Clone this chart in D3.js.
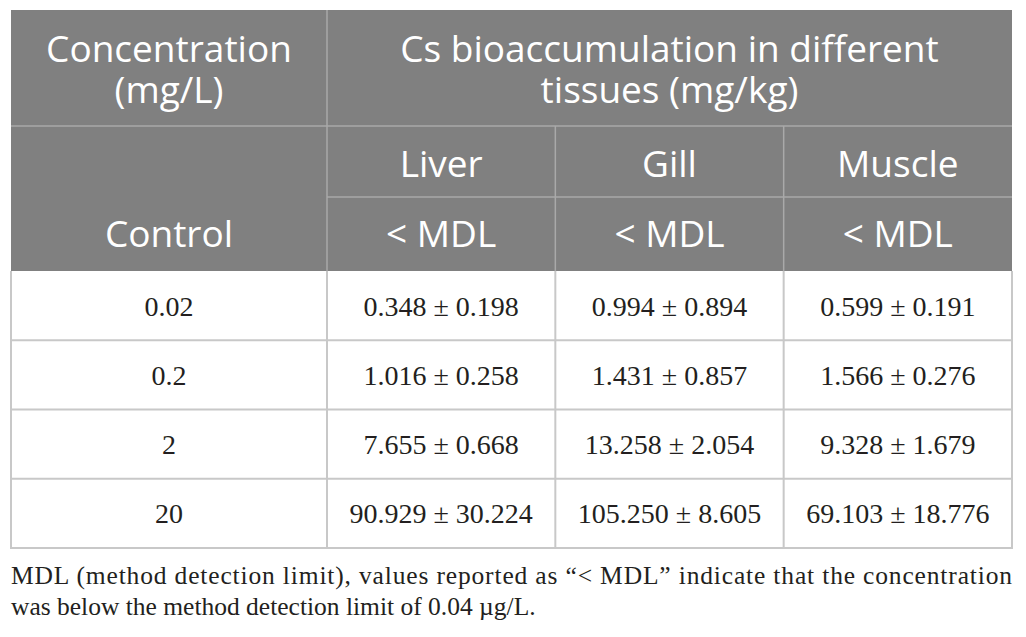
<!DOCTYPE html>
<html lang="en">
<head>
<meta charset="UTF-8">
<title>Cs bioaccumulation table</title>
<script src="https://d3js.org/d3.v7.min.js"></script>
<style>
    body { margin: 0; background: white; }
    .head { font-family: "Open Sans", sans-serif; font-size: 37px; fill: white; }
    .cell { font-family: "Liberation Serif", "Times New Roman", serif; font-size: 28px; fill: #231f20; }
    .note { font-family: "Liberation Serif", "Times New Roman", serif; font-size: 25.5px; fill: #231f20; }
</style>
</head>
<body>
<svg width="1026" height="637"></svg>
<script>
    // table contents
    var concentrations = ["0.02", "0.2", "2", "20"];
    var tissues = ["Liver", "Gill", "Muscle"];
    var liverMean = ["0.348", "1.016", "7.655", "90.929"];
    var liverSd = ["0.198", "0.258", "0.668", "30.224"];
    var gillMean = ["0.994", "1.431", "13.258", "105.250"];
    var gillSd = ["0.894", "0.857", "2.054", "8.605"];
    var muscleMean = ["0.599", "1.566", "9.328", "69.103"];
    var muscleSd = ["0.191", "0.276", "1.679", "18.776"];
    var controlLabel = "< MDL";
    var firstHeader = ["Concentration", "(mg/L)"];
    var groupHeader = ["Cs bioaccumulation in different", "tissues (mg/kg)"];
    var noteLines = [
        "MDL (method detection limit), values reported as \u201c< MDL\u201d indicate that the concentration",
        "was below the method detection limit of 0.04 \u00b5g/L."
    ];

    var svg = d3.select("svg");
    var left = 11, split = 327, right = 1012;
    var headTop = 10, headMid = 126, headSub = 197, bodyTop = 271, bodyBottom = 548;

    var x = d3.scaleBand().domain(tissues).range([split, right]);
    var y = d3.scaleBand().domain(concentrations).range([bodyTop, bodyBottom]);
    var cx = function(t) { return x(t) + x.bandwidth() / 2; };

    var rows = concentrations.map(function(c, i) {
        return { conc: c, vals: [
            liverMean[i] + " \u00b1 " + liverSd[i],
            gillMean[i] + " \u00b1 " + gillSd[i],
            muscleMean[i] + " \u00b1 " + muscleSd[i]
        ] };
    });

    // header background
    svg.append("rect")
        .attr("x", left).attr("y", headTop)
        .attr("width", right - left).attr("height", bodyTop - headTop)
        .attr("fill", "#808080");

    var hl = svg.append("g").attr("stroke", "#a9a9a9").attr("stroke-width", 1.5);
    hl.append("line").attr("x1", left).attr("x2", right).attr("y1", headMid).attr("y2", headMid);
    hl.append("line").attr("x1", split).attr("x2", right).attr("y1", headSub).attr("y2", headSub);
    hl.append("line").attr("x1", split).attr("x2", split).attr("y1", headTop).attr("y2", bodyTop);
    hl.selectAll(".sub").data(tissues.slice(1)).enter().append("line")
        .attr("x1", function(d) { return x(d); }).attr("x2", function(d) { return x(d); })
        .attr("y1", headMid).attr("y2", bodyTop);

    // two-line headers, one text each with tspans
    function twoLines(lines, xPos) {
        var t = svg.append("text").attr("class", "head").attr("text-anchor", "middle");
        t.selectAll("tspan").data(lines).enter().append("tspan")
            .attr("x", xPos)
            .attr("y", function(d, i) { return 62 + i * 41; })
            .text(function(d) { return d; });
    }
    twoLines(firstHeader, (left + split) / 2);
    twoLines(groupHeader, (split + right) / 2);

    svg.selectAll(".tis").data(tissues).enter().append("text")
        .attr("class", "head").attr("text-anchor", "middle")
        .attr("x", cx).attr("y", 177)
        .text(function(d) { return d; });

    svg.append("text").attr("class", "head").attr("text-anchor", "middle")
        .attr("x", (left + split) / 2).attr("y", 247).text("Control");

    svg.selectAll(".ctl").data(tissues).enter().append("text")
        .attr("class", "head").attr("text-anchor", "middle")
        .attr("x", cx).attr("y", 247)
        .text(controlLabel);

    // body grid
    var gl = svg.append("g").attr("stroke", "#c8c8c8").attr("stroke-width", 2).attr("fill", "none");
    gl.selectAll(".rl").data(concentrations.slice(1)).enter().append("line")
        .attr("x1", left).attr("x2", right)
        .attr("y1", function(d) { return y(d); }).attr("y2", function(d) { return y(d); });
    gl.selectAll(".cl").data(tissues).enter().append("line")
        .attr("x1", function(d) { return x(d); }).attr("x2", function(d) { return x(d); })
        .attr("y1", bodyTop).attr("y2", bodyBottom);
    gl.append("path")
        .attr("d", "M" + left + "," + bodyTop + "V" + bodyBottom + "H" + right + "V" + bodyTop);

    var rg = svg.selectAll(".row").data(rows).enter().append("g")
        .attr("transform", function(d) { return "translate(0," + (y(d.conc) + y.bandwidth() / 2 + 10) + ")"; });
    rg.append("text").attr("class", "cell").attr("text-anchor", "middle")
        .attr("x", (left + split) / 2)
        .text(function(d) { return d.conc; });
    rg.selectAll(".v").data(function(d) { return d.vals; }).enter().append("text")
        .attr("class", "cell").attr("text-anchor", "middle")
        .attr("x", function(d, i) { return cx(tissues[i]); })
        .text(function(d) { return d; });

    // footnote
    svg.selectAll(".note").data(noteLines).enter().append("text")
        .attr("class", "note")
        .attr("x", left)
        .attr("y", function(d, i) { return 584 + i * 31; })
        .attr("textLength", function(d, i) { return i === 0 ? right - left : null; })
        .attr("lengthAdjust", "spacing")
        .text(function(d) { return d; });
</script>
</body>
</html>
